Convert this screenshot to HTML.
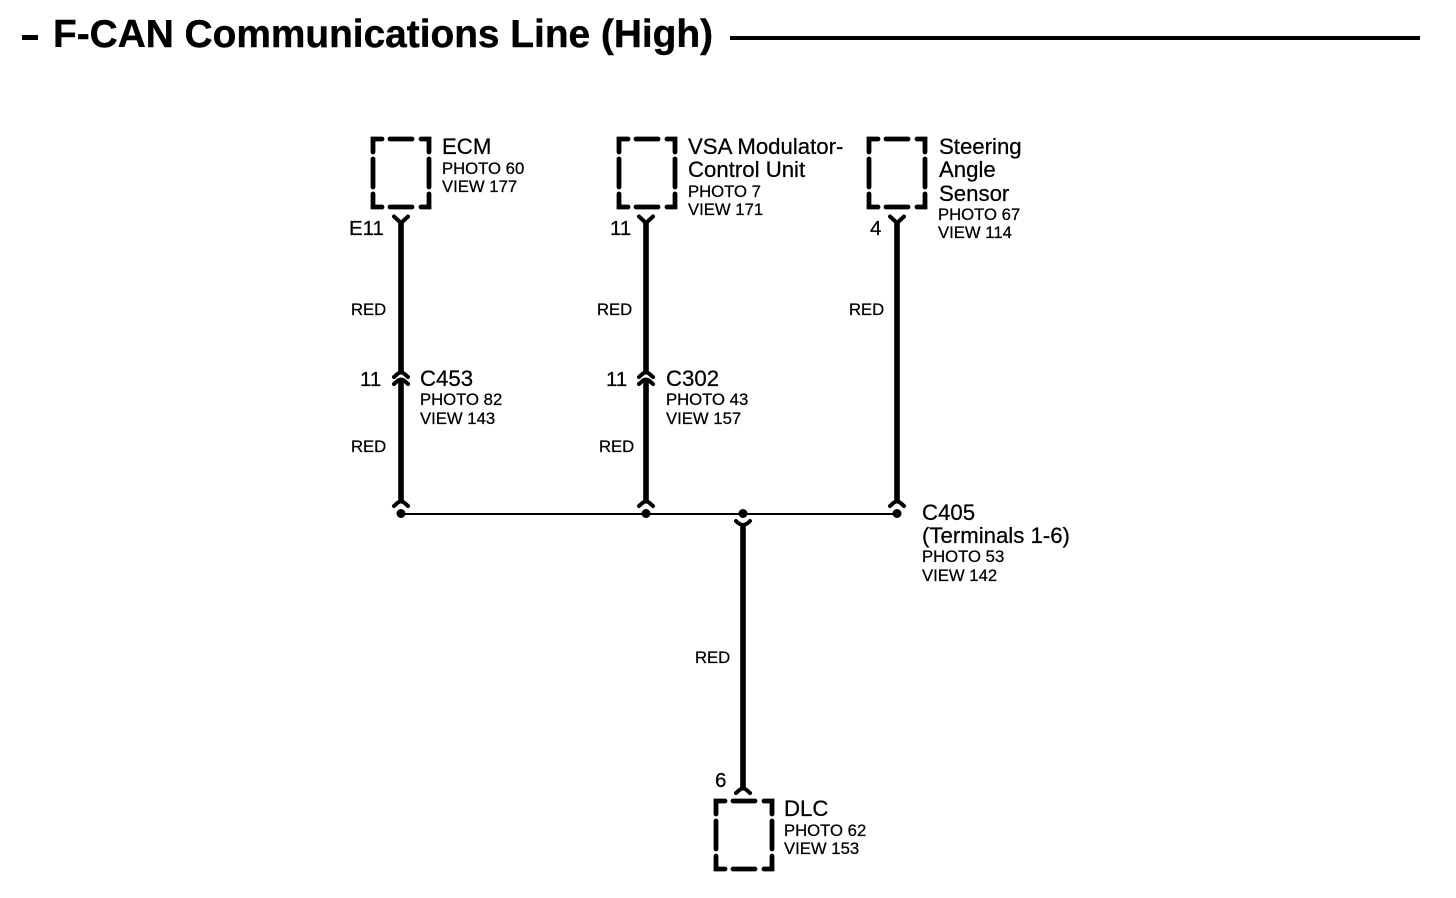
<!DOCTYPE html>
<html><head><meta charset="utf-8">
<style>
html,body{margin:0;padding:0;background:#fff}
svg{display:block}
text{font-family:"Liberation Sans",sans-serif;fill:#000;stroke:#000;stroke-width:.25px}
.b{font-size:22.2px}
.s{font-size:16.7px}
.n{font-size:20.5px}
.box{fill:none;stroke:#000;stroke-width:4.8;stroke-linecap:round;stroke-linejoin:miter}
.w{stroke:#000;stroke-width:5.6;fill:none}
.c{stroke:#000;stroke-width:4;fill:none;stroke-linecap:round;stroke-linejoin:round}
</style></head>
<body>
<svg width="1456" height="898" viewBox="0 0 1456 898" xmlns="http://www.w3.org/2000/svg">
<defs>
<g id="bx"><path class="box" d="M2,15V2H11M19,2H41M50,2H58V15M2,22V50M58,22V50M2,57V70H11M19,70H41M50,70H58V57"/></g>
<g id="y"><path class="c" d="M-7,1.5L0,8L7,1.5"/></g>
<g id="j"><path class="c" d="M-7,1Q-4,4.5 0,5Q4,4.5 7,1"/></g>
<g id="n"><path class="c" d="M-7,5L-3,1.5Q0,-.5 3,1.5L7,5"/></g>
</defs>

<rect x="22" y="35" width="16" height="5"/>
<text x="53" y="47" style="font-size:38.85px;font-weight:bold;stroke-width:.4px">F-CAN Communications Line (High)</text>
<rect x="730" y="36" width="690" height="4"/>

<!-- boxes -->
<use href="#bx" x="371" y="137"/>
<use href="#bx" x="617" y="137"/>
<use href="#bx" x="867" y="137"/>
<use href="#bx" x="714" y="799"/>

<!-- wires -->
<path class="w" d="M401,222V373M401,380V502M646,222V373M646,380V502M897,222V502M743,524V790"/>
<path d="M401,514H897" stroke="#000" stroke-width="2" fill="none"/>
<circle cx="401" cy="513.5" r="4.5"/><circle cx="646" cy="513.5" r="4.5"/><circle cx="743" cy="513.5" r="4.5"/><circle cx="897" cy="513.5" r="4.5"/>

<!-- connector ends -->
<use href="#y" x="401" y="215"/><use href="#y" x="646" y="215"/><use href="#y" x="897" y="215"/>
<use href="#n" x="401" y="372"/><use href="#n" x="401" y="379"/>
<use href="#n" x="646" y="372"/><use href="#n" x="646" y="379"/>
<use href="#n" x="401" y="501"/><use href="#n" x="646" y="501"/><use href="#n" x="897" y="501"/>
<use href="#j" x="743" y="520"/>
<use href="#n" x="743" y="788"/>

<!-- ECM -->
<text class="b" x="442" y="154">ECM</text>
<text class="s" x="442" y="174">PHOTO 60</text>
<text class="s" x="442" y="192">VIEW 177</text>
<text class="n" x="349" y="235">E11</text>
<text class="s" x="351" y="315">RED</text>
<text class="n" x="360" y="386">11</text>
<text class="b" x="420" y="386">C453</text>
<text class="s" x="420" y="405">PHOTO 82</text>
<text class="s" x="420" y="424">VIEW 143</text>
<text class="s" x="351" y="452">RED</text>

<!-- VSA -->
<text class="b" x="688" y="154">VSA Modulator-</text>
<text class="b" x="688" y="177">Control Unit</text>
<text class="s" x="688" y="197">PHOTO 7</text>
<text class="s" x="688" y="215">VIEW 171</text>
<text class="n" x="610" y="235">11</text>
<text class="s" x="597" y="315">RED</text>
<text class="n" x="606" y="386">11</text>
<text class="b" x="666" y="386">C302</text>
<text class="s" x="666" y="405">PHOTO 43</text>
<text class="s" x="666" y="424">VIEW 157</text>
<text class="s" x="599" y="452">RED</text>

<!-- Steering -->
<text class="b" x="939" y="154">Steering</text>
<text class="b" x="939" y="177">Angle</text>
<text class="b" x="939" y="201">Sensor</text>
<text class="s" x="938" y="220">PHOTO 67</text>
<text class="s" x="938" y="238">VIEW 114</text>
<text class="n" x="870" y="235">4</text>
<text class="s" x="849" y="315">RED</text>

<!-- C405 -->
<text class="b" x="922" y="520">C405</text>
<text class="b" x="922" y="543">(Terminals 1-6)</text>
<text class="s" x="922" y="562">PHOTO 53</text>
<text class="s" x="922" y="581">VIEW 142</text>

<!-- DLC -->
<text class="s" x="695" y="663">RED</text>
<text class="n" x="715" y="787">6</text>
<text class="b" x="784" y="816">DLC</text>
<text class="s" x="784" y="836">PHOTO 62</text>
<text class="s" x="784" y="854">VIEW 153</text>
</svg>
</body></html>
